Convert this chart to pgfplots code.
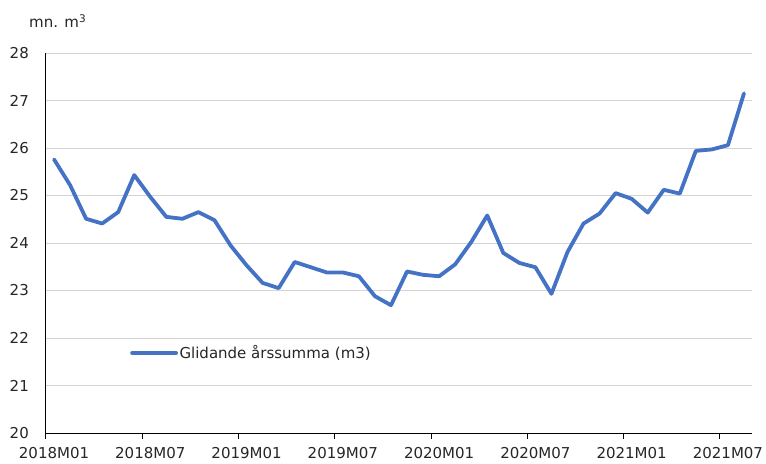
\documentclass[border=0pt]{standalone}
\usepackage{pgfplots}
\pgfplotsset{compat=1.18}
\usepackage{fontspec}
\setmainfont{DejaVu Sans}
\definecolor{exblue}{HTML}{4472C4}
\definecolor{gridgray}{HTML}{D4D4D4}
\pgfplotstableread{
i v
0 25.76
1 25.22
2 24.51
3 24.41
4 24.65
5 25.43
6 24.97
7 24.55
8 24.51
9 24.65
10 24.48
11 23.95
12 23.53
13 23.16
14 23.05
15 23.60
16 23.49
17 23.38
18 23.38
19 23.30
20 22.88
21 22.69
22 23.40
23 23.33
24 23.30
25 23.55
26 24.02
27 24.58
28 23.79
29 23.58
30 23.49
31 22.93
32 23.81
33 24.41
34 24.62
35 25.05
36 24.93
37 24.64
38 25.12
39 25.04
40 25.94
41 25.97
42 26.06
43 27.15
}\datatable
\begin{document}
\fontsize{15bp}{18bp}\selectfont
\begin{tikzpicture}
\begin{axis}[
  name=ax,
  scale only axis, width=706bp, height=380bp,
  at={(0,0)}, anchor=south west,
  xmin=-0.5, xmax=43.5, ymin=20, ymax=28,
  axis x line*=bottom, axis y line*=left,
  axis line style={-, black, line width=1bp},
  xtick={0,6,...,42},
  xticklabels={2018M01,2018M07,2019M01,2019M07,2020M01,2020M07,2021M01,2021M07},
  minor xtick={-0.5,5.5,11.5,17.5,23.5,29.5,35.5,41.5},
  ytick={20,21,...,28},
  major tick length=0pt, minor tick length=6bp, tick align=outside,
  minor tick style={black, line width=1bp},
  ymajorgrids, grid style={gridgray, line width=0.8bp},
  /pgf/number format/assume math mode=true,
  tick label style={font=\fontsize{15bp}{18bp}\selectfont, text=black!85},
  xticklabel style={inner sep=0pt, anchor=north, yshift=-14bp},
  yticklabel style={inner sep=0pt, anchor=east, xshift=-17bp},
  legend style={at={(0.119,0.2105)}, anchor=west, draw=none, fill=none,
    inner sep=0pt, font=\fontsize{15bp}{18bp}\selectfont, text=black!85,
    nodes={inner sep=1.5bp}},
  legend image code/.code={\draw[#1] (0bp,0bp) -- (44bp,0bp);},
  clip=false,
]
\addplot[exblue, line width=3.8bp, line join=round, line cap=round] table[x=i, y=v] {\datatable};
\addlegendentry{Glidande årssumma (m3)}
\end{axis}
\node[anchor=base west, inner sep=0pt, text=black!85] at ([shift={(-17bp,25bp)}]ax.north west) {mn. m\textsuperscript{3}};
\pgfresetboundingbox
\path[use as bounding box] ([shift={(-46bp,-30bp)}]ax.south west) rectangle ([shift={(14bp,53bp)}]ax.north east);
\end{tikzpicture}
\end{document}
